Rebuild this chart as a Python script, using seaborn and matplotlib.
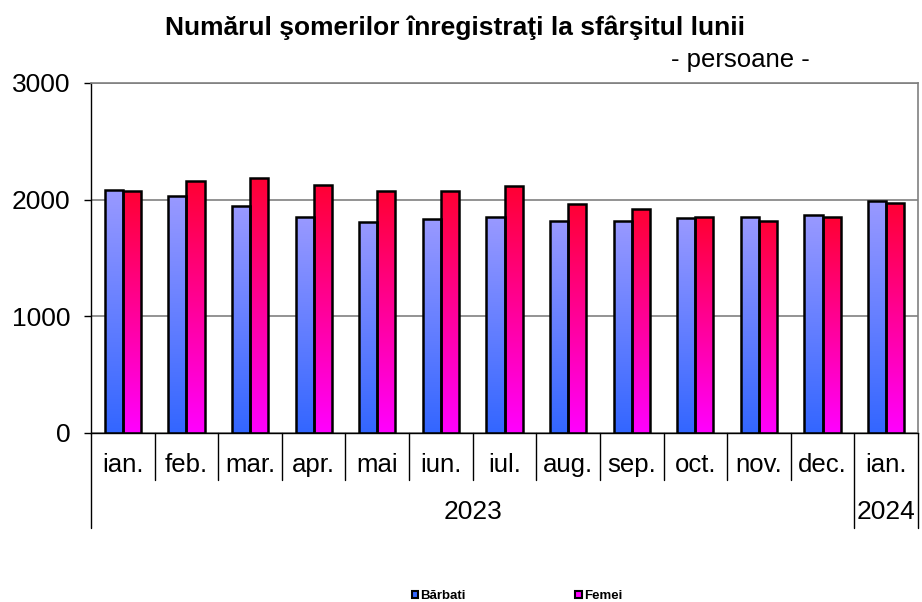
import numpy as np
import pandas as pd
import matplotlib
matplotlib.use("Agg")
import matplotlib.pyplot as plt
import matplotlib.transforms as mtransforms
from matplotlib.colors import to_rgb
from matplotlib.patches import Patch
import seaborn as sns

# Data
months = ['ian.', 'feb.', 'mar.', 'apr.', 'mai', 'iun.', 'iul.', 'aug.',
          'sep.', 'oct.', 'nov.', 'dec.', 'ian.']
years = ['2023'] * 12 + ['2024']
barbati = [2082, 2031, 1945, 1851, 1811, 1831, 1851, 1820, 1820, 1840, 1848, 1868, 1985]
femei = [2071, 2159, 2185, 2128, 2071, 2071, 2117, 1963, 1917, 1851, 1820, 1848, 1974]
series = ['Bărbati', 'Femei']
yticks = [0, 1000, 2000, 3000]

period = [f"{m} {y}" for m, y in zip(months, years)]
df = pd.DataFrame({
    'perioada': period * 2,
    'sex': [series[0]] * len(period) + [series[1]] * len(period),
    'valoare': barbati + femei,
})

# gradient colours (top, bottom)
grad_colors = {
    'Bărbati': ('#9999FF', '#3366FF'),
    'Femei': ('#FF0033', '#FF00FF'),
}

sns.set_theme(style='white')
plt.rcParams['font.family'] = ['Liberation Sans', 'DejaVu Sans']
plt.rcParams['text.color'] = 'black'
plt.rcParams['xtick.color'] = 'black'
plt.rcParams['ytick.color'] = 'black'
plt.rcParams['axes.labelcolor'] = 'black'

fig = plt.figure(figsize=(9.22, 6.02), dpi=100)
ax = fig.add_axes([91 / 922, 1 - 433 / 602, 827 / 922, 350 / 602])

sns.barplot(data=df, x='perioada', y='valoare', hue='sex', hue_order=series,
            palette={s: grad_colors[s][1] for s in series}, saturation=1,
            width=0.57, edgecolor='black', linewidth=1.8, errorbar=None,
            legend=False, ax=ax)

# gradient fill per bar
n = 256
for cont, s in zip(ax.containers, series):
    top, bot = np.array(to_rgb(grad_colors[s][0])), np.array(to_rgb(grad_colors[s][1]))
    t = np.linspace(0, 1, n)[:, None]
    grad = (top * (1 - t) + bot * t)[:, None, :]
    for bar in cont:
        x0, w, h = bar.get_x(), bar.get_width(), bar.get_height()
        im = ax.imshow(grad, extent=[x0, x0 + w, 0, h], aspect='auto',
                       zorder=2, interpolation='bilinear')
        im.set_clip_path(bar)
        bar.set_facecolor('none')
        bar.set_zorder(3)

ax.set_xlim(-0.5, len(months) - 0.5)
ax.set_ylim(0, 3000)
ax.set_yticks(yticks)
ax.set_yticklabels([str(v) for v in yticks])
ax.tick_params(axis='y', length=5, width=1, color='black', direction='out',
               labelsize=19, pad=10, left=True, labelcolor='black')
ax.set_xticks(range(len(months)))
ax.set_xticklabels([])
ax.tick_params(axis='x', length=0)
ax.set_xlabel('')
ax.set_ylabel('')

ax.set_axisbelow(True)
ax.yaxis.grid(True, color='#808080', linewidth=1.2)
ax.xaxis.grid(False)
for side in ['left', 'bottom']:
    ax.spines[side].set_color('black')
    ax.spines[side].set_linewidth(1)
for side in ['top', 'right']:
    ax.spines[side].set_color('#808080')
    ax.spines[side].set_linewidth(1.2)

# multi-level category axis
trans = mtransforms.blended_transform_factory(ax.transData, ax.transAxes)
for i, m in enumerate(months):
    ax.text(i, -32 / 350, m, transform=trans, ha='center', va='center',
            fontsize=18.5, color='black')
for i in range(len(months) + 1):
    x = i - 0.5
    long_line = i in (0, 12, 13)
    y1 = -95 / 350 if long_line else -47 / 350
    ax.plot([x, x], [0, y1], transform=trans, color='black', lw=1, clip_on=False)
ax.text(5.5, -79 / 350, '2023', transform=trans, ha='center', va='center',
        fontsize=19, color='black')
ax.text(12, -79 / 350, '2024', transform=trans, ha='center', va='center',
        fontsize=19, color='black')

fig.text(455 / 922, 1 - 28 / 602, 'Numărul şomerilor înregistraţi la sfârşitul lunii',
         ha='center', va='center', fontsize=19, fontweight='bold', color='black')
fig.text(740 / 922, 1 - 60 / 602, '- persoane -', ha='center', va='center',
         fontsize=18.5, color='black')

handles = [Patch(facecolor=grad_colors[s][1], edgecolor='black', linewidth=1.5) for s in series]
fig.legend(handles, series, loc='center', bbox_to_anchor=(517 / 922, 1 - 596 / 602),
           ncol=2, frameon=False, handlelength=0.5, handleheight=0.5,
           handletextpad=0.15, columnspacing=8.3, labelcolor='black',
           prop={'size': 9.5, 'weight': 'bold'})

fig.savefig('out.png', dpi=100)
